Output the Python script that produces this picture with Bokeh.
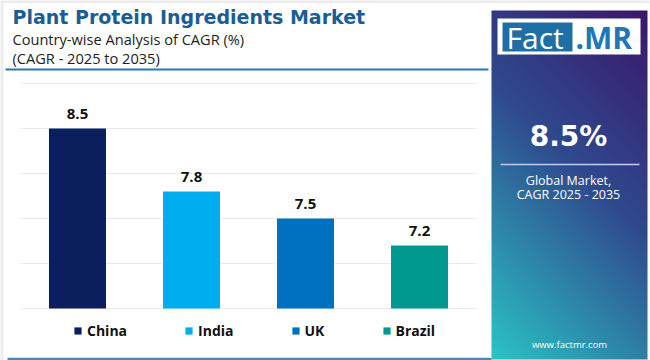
import numpy as np
from bokeh.plotting import figure
from bokeh.models import Range1d, ColumnDataSource, Legend, LegendItem
from bokeh.core.properties import value
from bokeh.embed import file_html
from bokeh.resources import INLINE

# ---------------- data ----------------
countries = ["China", "India", "UK", "Brazil"]
cagr = [8.5, 7.8, 7.5, 7.2]
bar_colors = ["#0b1f5e", "#00aeef", "#0070c0", "#00998f"]
grid_ticks = [6.5, 7.0, 7.5, 8.0, 8.5, 9.0]
title_text = "Plant Protein Ingredients Market"
subtitle_1 = "Country-wise Analysis of CAGR (%)"
subtitle_2 = "(CAGR - 2025 to 2035)"
global_cagr = "8.5%"
panel_text_1 = "Global Market,"
panel_text_2 = "CAGR 2025 - 2035"
site = "www.factmr.com"

# ---------------- layout helpers (reference px -> canvas) ----------------
W, H = 650, 360


def X(xr):
    return xr


def Y(yr):
    return H - yr


FONT = "Open Sans"
TFONT = "DejaVu Sans"

p = figure(width=W, height=H, x_range=Range1d(0, W), y_range=Range1d(0, H),
           x_axis_type=None, y_axis_type=None, toolbar_location=None,
           output_backend="svg", min_border=0, outline_line_color=None,
           background_fill_color="#ececec", border_fill_color="#ececec")
p.xgrid.visible = False
p.ygrid.visible = False

# card
p.quad(left=X(3), right=X(649), bottom=Y(360), top=Y(2.5),
       fill_color="white", line_color=None)

# ranges for the bars (chart area mapped onto the canvas frame)
x0p, x1p = X(20), X(476)
kx = len(countries) / (x1p - x0p)
p.extra_x_ranges = {"bars": Range1d(0 - x0p * kx, len(countries) + (W - x1p) * kx)}
yb, yt = Y(308), Y(83)
lo, hi = grid_ticks[0], grid_ticks[-1]
ky = (hi - lo) / (yt - yb)
p.extra_y_ranges = {"val": Range1d(lo - yb * ky, hi + (H - yt) * ky)}

# grid lines
p.segment(x0=[0] * len(grid_ticks), x1=[len(countries)] * len(grid_ticks),
          y0=grid_ticks, y1=grid_ticks, line_color="#e8ecf1", line_width=1,
          x_range_name="bars", y_range_name="val")

# bars
items = []
for i, (c, v, col) in enumerate(zip(countries, cagr, bar_colors)):
    src = ColumnDataSource(dict(x=[i + 0.5], top=[v], lab=[f"{v:.1f}"]))
    r = p.vbar(x="x", top="top", bottom=lo, width=0.5, source=src,
               fill_color=col, line_color=None,
               x_range_name="bars", y_range_name="val")
    p.text(x="x", y="top", text="lab", source=src, x_range_name="bars",
           y_range_name="val", y_offset=-15, text_align="center",
           text_baseline="middle", text_font=value(FONT),
           text_font_style="bold", text_font_size="15px", text_color="#111111")
    items.append(LegendItem(label=c, renderers=[r]))

legend = Legend(items=items, orientation="horizontal", location=(X(73), Y(332) - 8),
                glyph_width=9, glyph_height=9, label_standoff=5, spacing=57,
                padding=0, margin=0, border_line_color=None,
                background_fill_alpha=0, label_height=16,
                label_text_font=FONT, label_text_font_style="bold",
                label_text_font_size="14px", label_text_color="#111111")
p.add_layout(legend, "center")

# title & subtitles
p.text(x=[X(12)], y=[Y(16)], text=[title_text], text_font=value(TFONT),
       text_font_style="bold", text_font_size="19px", text_color="#1a5d94",
       text_baseline="middle")
p.text(x=[X(12), X(12)], y=[Y(38.5), Y(57.5)], text=[subtitle_1, subtitle_2],
       text_font=value(FONT), text_font_size="14.6px", text_color="#222222",
       text_baseline="middle")

# header rule and bottom rule
p.segment(x0=[X(5)], x1=[X(488)], y0=[Y(69)], y1=[Y(69)],
          line_color="#2a76ae", line_width=2)
p.segment(x0=[X(7)], x1=[X(491)], y0=[Y(358.5)], y1=[Y(358.5)],
          line_color="#4a86b8", line_width=2.5)

# right panel gradient
px0, px1, py0, py1 = X(491), X(647), Y(359), Y(10)
pw, ph = px1 - px0, py1 - py0
NW, NH = int(round(pw)), int(round(ph))
U, V = np.meshgrid(np.linspace(0, 1, NW), 1 - np.linspace(0, 1, NH))
t = ((1 - U) * pw + V * ph) / (pw + ph)
stops = [(0.0, (0x3b, 0x17, 0x6a)), (0.45, (0x2f, 0x4a, 0x8e)), (1.0, (0x2b, 0xc4, 0xc6))]
img = np.empty((NH, NW), dtype=np.uint32)
view = img.view(dtype=np.uint8).reshape((NH, NW, 4))
st = [s[0] for s in stops]
for ch in range(3):
    view[..., ch] = np.interp(t, st, [s[1][ch] for s in stops]).astype(np.uint8)
view[..., 3] = 255
p.image_rgba(image=[img], x=px0, y=py0, dw=pw, dh=ph)

# logo
p.quad(left=X(497), right=X(640), bottom=Y(54), top=Y(18), fill_color="white", line_color=None)
p.quad(left=X(502), right=X(572), bottom=Y(51), top=Y(22), fill_color="#1f6fa7", line_color=None)
p.text(x=[X(506)], y=[Y(37)], text=["Fact"], text_font=value(FONT),
       text_font_size="30px", text_color="white", text_baseline="middle")
p.text(x=[X(575)], y=[Y(37)], text=[".MR"], text_font=value(FONT),
       text_font_style="bold", text_font_size="30px", text_color="#1f76b9",
       text_baseline="middle")

# panel texts
cx = X(568)
p.text(x=[cx], y=[Y(136)], text=[global_cagr], text_font=value(TFONT),
       text_font_style="bold", text_font_size="28px", text_color="white",
       text_align="center", text_baseline="middle")
p.segment(x0=[X(500)], x1=[X(639)], y0=[Y(164)], y1=[Y(164)],
          line_color="#c3cbe9", line_width=1.5)
p.text(x=[cx, cx], y=[Y(180), Y(194)], text=[panel_text_1, panel_text_2],
       text_font=value(FONT), text_font_size="12.5px", text_color="white",
       text_align="center", text_baseline="middle")
p.text(x=[X(569)], y=[Y(344)], text=[site], text_font=value(FONT),
       text_font_size="9.5px", text_color="white", text_align="center",
       text_baseline="middle")

open("out.html", "w").write(file_html(p, INLINE))
